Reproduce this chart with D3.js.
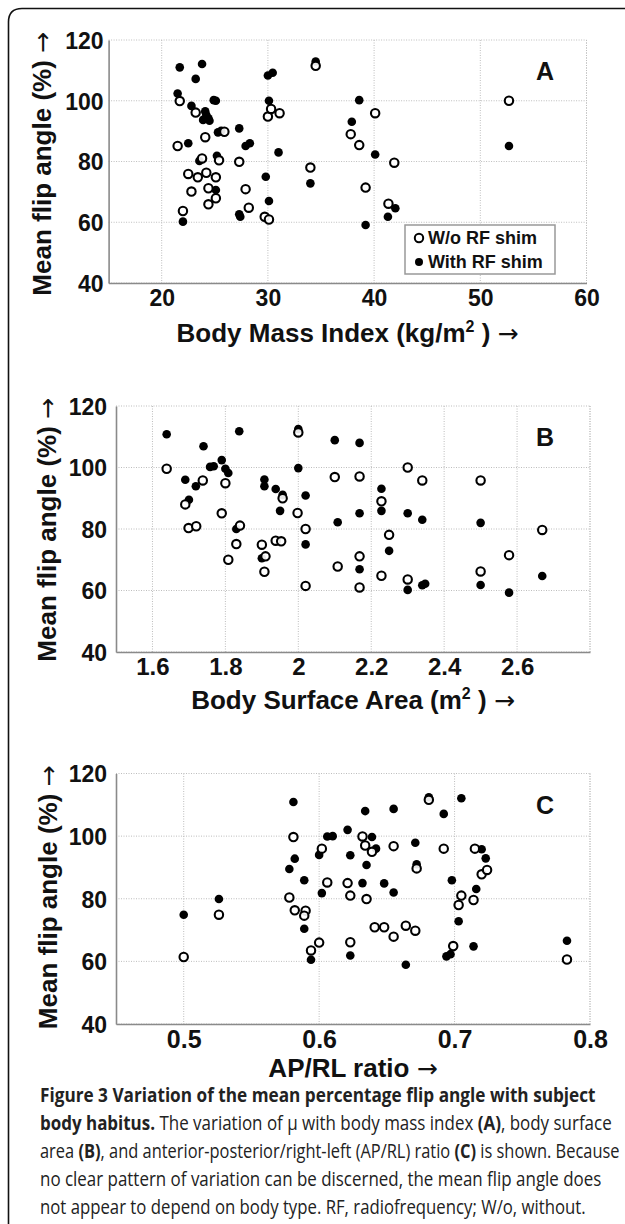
<!DOCTYPE html>
<html>
<head>
<meta charset="utf-8">
<script src="https://cdnjs.cloudflare.com/ajax/libs/d3/7.8.5/d3.min.js"></script>
<style>
  html, body { margin: 0; padding: 0; background: #fff; }
  svg { display: block; }
</style>
</head>
<body>
<div id="chart"></div>
<script>
// ---- data ----
var yTicks = [40, 60, 80, 100, 120];
var bmiTicks = [20, 30, 40, 50, 60];
var bsaTicks = [1.6, 1.8, 2, 2.2, 2.4, 2.6, 2.8];
var bsaLabels = ["1.6", "1.8", "2", "2.2", "2.4", "2.6", ""];
var apTicks = [0.5, 0.6, 0.7, 0.8];
var legendLabels = ["W/o RF shim", "With RF shim"];

// [x, mean flip angle %]
var bmiNoShim = [[21.7,99.9],[23.2,96.1],[24.1,88.0],[21.5,85.1],[25.9,89.8],[23.8,81.0],[25.4,80.4],[27.3,79.9],
  [22.5,75.9],[23.4,74.8],[24.2,76.3],[25.1,74.8],[22.8,70.1],[24.4,71.2],[27.9,70.9],[25.1,67.9],[24.4,65.9],
  [28.2,64.8],[22.0,63.7],[29.7,61.8],[30.1,60.9],[30.0,94.8],[30.3,97.3],[31.1,95.9],[34.5,111.5],[34.0,78.0],
  [37.8,89.0],[38.6,85.4],[40.1,95.9],[39.2,71.4],[41.9,79.6],[41.35,66.1],[52.7,100.0]];
var bmiShim = [[21.7,111.0],[23.8,112.1],[23.2,107.2],[21.5,102.4],[24.9,100.2],[25.1,100.0],[22.8,98.3],[24.2,95.3],
  [23.9,93.7],[24.4,94.2],[24.1,96.5],[24.5,93.4],[25.6,90.1],[25.3,89.6],[27.3,90.9],[22.5,86.0],[27.9,85.1],[28.3,86.0],
  [23.55,80.2],[25.2,81.9],[25.1,70.6],[22.0,60.2],[27.4,61.8],[27.3,62.6],[30.1,100.0],[30.0,108.3],[30.45,109.2],
  [31.0,83.0],[29.8,75.0],[30.1,67.0],[34.5,112.9],[34.0,72.8],[38.6,100.2],[37.9,93.1],[40.1,82.3],[39.2,59.1],
  [41.3,61.8],[42.0,64.6],[52.7,85.1]];

var bsaNoShim = [[1.639,99.6],[1.738,95.8],[1.80,94.9],[1.69,88.0],[1.957,90.0],[1.79,85.1],[1.998,85.2],[1.699,80.3],
  [1.72,80.9],[1.84,81.1],[2.02,80.0],[1.90,74.9],[1.83,75.1],[1.808,70.0],[1.938,76.2],[1.953,76.0],[1.91,71.1],
  [1.907,66.1],[2.02,61.5],[2.0,111.4],[2.10,96.9],[2.108,67.8],[2.168,97.1],[2.30,100.0],[2.34,95.8],[2.228,89.0],
  [2.249,78.1],[2.168,71.1],[2.168,61.0],[2.228,64.8],[2.30,63.6],[2.50,95.8],[2.50,66.2],[2.578,71.5],[2.669,79.7]];
var bsaShim = [[1.639,110.8],[1.74,106.9],[1.838,111.8],[2.0,112.5],[2.10,108.9],[1.79,102.4],[1.758,100.2],[1.768,100.4],
  [1.80,99.6],[1.808,98.2],[1.69,96.0],[1.719,93.9],[1.70,89.5],[1.907,96.1],[1.907,93.9],[1.938,93.0],[1.957,91.1],
  [1.95,85.9],[2.0,99.8],[2.02,90.9],[1.83,80.0],[2.108,82.2],[2.02,75.0],[1.90,70.5],[2.168,108.0],[2.168,85.1],
  [2.228,93.1],[2.228,85.9],[2.30,85.1],[2.34,83.0],[2.249,72.9],[2.168,66.9],[2.30,60.2],[2.34,61.7],[2.348,62.2],
  [2.50,82.0],[2.50,61.8],[2.578,59.3],[2.669,64.7]];

var apNoShim = [[0.5,61.4],[0.526,74.9],[0.581,99.7],[0.578,80.4],[0.582,76.3],[0.590,76.2],[0.589,74.6],[0.594,63.5],
  [0.600,66.0],[0.602,96.0],[0.606,85.2],[0.621,85.0],[0.623,81.0],[0.623,66.1],[0.632,99.9],[0.634,97.0],[0.639,95.0],
  [0.635,79.9],[0.641,70.9],[0.648,70.9],[0.655,67.9],[0.655,96.8],[0.664,71.4],[0.671,69.8],[0.672,89.7],[0.681,111.6],
  [0.692,96.0],[0.699,64.9],[0.703,78.0],[0.705,81.0],[0.714,79.6],[0.715,96.0],[0.720,87.8],[0.724,89.2],[0.783,60.6]];
var apShim = [[0.5,74.9],[0.526,79.9],[0.581,110.9],[0.582,92.8],[0.578,89.5],[0.589,85.9],[0.589,70.4],[0.594,60.5],
  [0.600,94.0],[0.602,81.8],[0.606,99.9],[0.610,100.0],[0.621,102.0],[0.623,93.9],[0.623,61.9],[0.634,108.0],[0.632,85.0],
  [0.639,99.7],[0.642,96.0],[0.635,90.8],[0.648,84.9],[0.655,108.7],[0.655,82.0],[0.671,97.9],[0.672,91.0],[0.664,58.9],
  [0.681,112.4],[0.692,107.1],[0.705,112.1],[0.698,85.9],[0.703,72.8],[0.694,61.6],[0.697,62.3],[0.714,64.8],[0.716,83.1],
  [0.720,95.8],[0.723,92.9],[0.783,66.6]];

var captionLines = [
  [["Figure 3 Variation of the mean percentage flip angle with subject", true]],
  [["body habitus.", true], [" The variation of \u03bc with body mass index ", false], ["(A)", true], [", body surface", false]],
  [["area ", false], ["(B)", true], [", and anterior-posterior/right-left (AP/RL) ratio ", false], ["(C)", true], [" is shown. Because", false]],
  [["no clear pattern of variation can be discerned, the mean flip angle does", false]],
  [["not appear to depend on body type. RF, radiofrequency; W/o, without.", false]]
];

/*******************
 * LAYOUT
 *******************/
var W = 625, H = 1224;
var FONT = "'Liberation Sans', Arial, Helvetica, sans-serif";
var ARROW_FONT = "'DejaVu Sans', sans-serif";

var panels = [
  {id: "A", noShim: bmiNoShim, shim: bmiShim, dom: [15, 60], ticks: bmiTicks, labels: bmiTicks.map(String),
   left: 108.6, right: 586.5, top: 40, bottom: 283, tickFs: 23, titleX: "Body Mass Index (kg/m", sup: "2", tail: " ) ",
   titleY: 342, yTitleX: 51, legend: true},
  {id: "B", noShim: bsaNoShim, shim: bsaShim, dom: [1.5, 2.8], ticks: bsaTicks, labels: bsaLabels,
   left: 116, right: 590, top: 406, bottom: 652, tickFs: 24, titleX: "Body Surface Area (m", sup: "2", tail: " ) ",
   titleY: 709, yTitleX: 56},
  {id: "C", noShim: apNoShim, shim: apShim, dom: [0.45, 0.8], ticks: apTicks, labels: apTicks.map(String),
   left: 116, right: 590, top: 773.5, bottom: 1024, tickFs: 25, titleX: "AP/RL ratio  ", sup: null, tail: "",
   titleY: 1077, yTitleX: 57}
];

var svg = d3.select("#chart").append("svg")
  .attr("width", W).attr("height", H)
  .style("font-family", FONT);

svg.append("rect").attr("width", W).attr("height", H).attr("fill", "#fff");

// outer frame (open to the right / bottom, rounded top-left corner)
svg.append("path")
  .attr("d", "M8.5," + H + " V22 Q8.5,8.5 22,8.5 H" + W)
  .attr("fill", "none").attr("stroke", "#111").attr("stroke-width", 1.6);

panels.forEach(drawPanel);
drawCaption();

function drawPanel(p) {
  var x = d3.scaleLinear().domain(p.dom).range([p.left, p.right]);
  var y = d3.scaleLinear().domain([40, 120]).range([p.bottom, p.top]);
  var g = svg.append("g");

  // grid
  g.append("g").selectAll("line").data(p.ticks.concat([p.dom[1]])).join("line")
    .attr("x1", function (d) { return x(d); }).attr("x2", function (d) { return x(d); })
    .attr("y1", p.top).attr("y2", p.bottom)
    .attr("stroke", "#bdbdbd").attr("stroke-width", 1).attr("stroke-dasharray", "1,1.5");
  g.append("g").selectAll("line").data(yTicks).join("line")
    .attr("y1", function (d) { return y(d); }).attr("y2", function (d) { return y(d); })
    .attr("x1", p.left).attr("x2", p.right)
    .attr("stroke", "#bdbdbd").attr("stroke-width", 1).attr("stroke-dasharray", "1,1.5");

  // axes
  var xa = g.append("g").attr("transform", "translate(0," + p.bottom + ")")
    .call(d3.axisBottom(x).tickValues(p.ticks).tickSize(0).tickPadding(6)
      .tickFormat(function (d, i) { return p.labels[i]; }));
  var ya = g.append("g").attr("transform", "translate(" + p.left + ",0)")
    .call(d3.axisLeft(y).tickValues(yTicks).tickSize(0).tickPadding(p.id === "A" ? 5 : 9));
  [xa, ya].forEach(function (a) {
    a.select(".domain").attr("stroke", "#8a8a8a").attr("stroke-width", 1.6);
    a.selectAll("text").attr("font-size", p.tickFs).attr("font-weight", "bold")
      .attr("fill", "#111").attr("font-family", FONT);
  });
  xa.selectAll("text").attr("dy", "0.72em");
  ya.selectAll("text").attr("font-size", 23).attr("dy", "0.36em");

  // x title
  var t = g.append("text").attr("x", (p.left + p.right) / 2).attr("y", p.titleY)
    .attr("text-anchor", "middle").attr("font-size", 26).attr("font-weight", "bold").attr("fill", "#111")
    .text(p.titleX);
  if (p.sup) {
    t.append("tspan").attr("dy", -10).attr("font-size", 16).text(p.sup);
    t.append("tspan").attr("dy", 10).text(p.tail);
  }
  t.append("tspan").attr("font-family", ARROW_FONT).attr("font-weight", "normal").attr("font-size", 25).text("\u2192");

  // y title
  var yt = g.append("text")
    .attr("transform", "translate(" + p.yTitleX + "," + (p.top - 8) + ") rotate(-90)")
    .attr("text-anchor", "end").attr("font-size", 26).attr("font-weight", "bold").attr("fill", "#111")
    .text("Mean flip angle (%) ");
  yt.append("tspan").attr("font-family", ARROW_FONT).attr("font-weight", "normal").attr("font-size", 25).text("\u2192");

  // panel letter
  g.append("text").attr("x", 545).attr("y", p.top + 40)
    .attr("text-anchor", "middle").attr("font-size", 25).attr("font-weight", "bold").attr("fill", "#111")
    .text(p.id);

  // points: filled first, open circles over them
  g.append("g").selectAll("circle").data(p.shim).join("circle")
    .attr("cx", function (d) { return x(d[0]); }).attr("cy", function (d) { return y(d[1]); })
    .attr("r", 4.3).attr("fill", "#000");
  g.append("g").selectAll("circle").data(p.noShim).join("circle")
    .attr("cx", function (d) { return x(d[0]); }).attr("cy", function (d) { return y(d[1]); })
    .attr("r", 4.2).attr("fill", "#fff").attr("fill-opacity", 0.9).attr("stroke", "#000").attr("stroke-width", 2.1);

  if (p.legend) drawLegend(g);
}

function drawLegend(g) {
  var lx = 405, ly = 225, lw = 150, lh = 49;
  g.append("rect").attr("x", lx).attr("y", ly).attr("width", lw).attr("height", lh)
    .attr("fill", "#fff").attr("stroke", "#999").attr("stroke-width", 1.5);
  var items = g.selectAll(".leg").data(legendLabels).join("g")
    .attr("transform", function (d, i) { return "translate(" + (lx + 14) + "," + (ly + 13 + i * 24) + ")"; });
  items.append("circle").attr("r", function (d, i) { return i ? 4 : 4.2; })
    .attr("fill", function (d, i) { return i ? "#000" : "#fff"; })
    .attr("stroke", "#000").attr("stroke-width", function (d, i) { return i ? 0 : 2; });
  items.append("text").attr("x", 9).attr("dy", "0.36em")
    .attr("font-size", 18).attr("font-weight", "bold").attr("fill", "#111")
    .text(function (d) { return d; });
}

function drawCaption() {
  // squeeze each line horizontally to the width it takes in the figure
  var ends = [596, 612, 620, 602, 586];
  var x0 = 40, y0 = 1102, lead = 28;
  captionLines.forEach(function (line, i) {
    var g = svg.append("g");
    var t = g.append("text").attr("x", 0).attr("y", 0)
      .attr("font-family", "'Open Sans', 'Noto Sans', sans-serif").attr("font-size", 20).attr("fill", "#222");
    line.forEach(function (seg) {
      t.append("tspan").attr("font-weight", seg[1] ? "bold" : "normal").text(seg[0]);
    });
    var w = t.node().getComputedTextLength();
    var sx = (ends[i] - x0) / w;
    g.attr("transform", "translate(" + x0 + "," + (y0 + i * lead) + ") scale(" + sx + ",1)");
  });
}
</script>
</body>
</html>
